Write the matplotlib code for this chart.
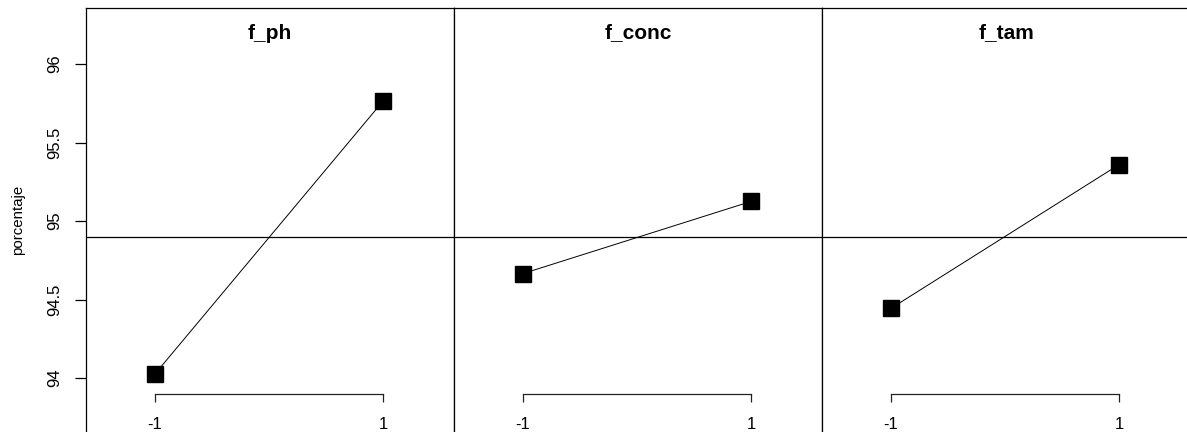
import numpy as np
import matplotlib.pyplot as plt

plt.rcParams["font.family"] = ["Liberation Sans", "DejaVu Sans"]

factors = ["f_ph", "f_conc", "f_tam"]
levels = [-1, 1]
ph_means = [94.025, 95.765]
conc_means = [94.665, 95.125]
tam_means = [94.443, 95.36]
yticks = [94, 94.5, 95, 95.5, 96]
ytick_labels = ["94", "94.5", "95", "95.5", "96"]

series = [ph_means, conc_means, tam_means]
grand_mean = np.mean(np.concatenate(series))

W, H = 1187, 432
fig = plt.figure(figsize=(W / 100, H / 100), dpi=100)

left_px, top_px, panel_px = 86, 8, 368
for i, (name, vals) in enumerate(zip(factors, series)):
    x0 = (left_px + i * panel_px) / W
    ax = fig.add_axes([x0, 0, panel_px / W, (H - top_px) / H])
    ax.set_xlim(-1.603, 1.62)
    ax.set_ylim(93.656, 96.357)
    ax.plot(levels, vals, color="black", lw=0.7, marker="s", ms=11.5,
            markerfacecolor="black", markeredgecolor="black")
    ax.axhline(grand_mean, color="black", lw=0.9)
    ax.text(0.5, 0.941, name, transform=ax.transAxes, ha="center", va="center",
            fontsize=15, fontweight="bold")

    for s in ["top", "left", "right"]:
        ax.spines[s].set_linewidth(0.9)
        ax.spines[s].set_color("black")
    ax.spines["bottom"].set_position(("data", 93.9))
    ax.spines["bottom"].set_bounds(-1, 1)
    ax.spines["bottom"].set_linewidth(0.9)
    ax.spines["bottom"].set_color("#222222")
    ax.set_xticks(levels)
    ax.set_xticklabels(["-1", "1"])
    ax.tick_params(axis="x", direction="out", length=6, width=0.9,
                   pad=11, labelsize=12, color="#222222")

    if i == 0:
        ax.set_yticks(yticks)
        ax.set_yticklabels(ytick_labels, rotation=90, va="center")
        ax.tick_params(axis="y", direction="out", length=8, width=0.9,
                       pad=9, labelsize=12)
        ax.set_ylabel("porcentaje", fontsize=10.8, labelpad=16)
    else:
        ax.set_yticks([])

fig.savefig("out.png", dpi=100)
